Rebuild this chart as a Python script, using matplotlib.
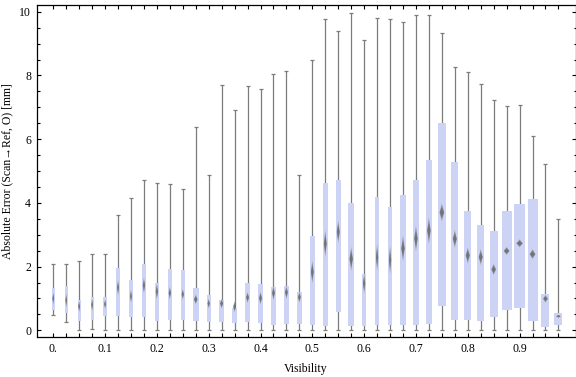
"""Notched box-whisker chart: absolute error vs. visibility."""

import matplotlib
matplotlib.use("Agg")
import matplotlib.pyplot as plt
import numpy as np
from matplotlib.patches import Polygon
from matplotlib.collections import PatchCollection

plt.rcParams.update({
    "font.family": ["Liberation Serif", "DejaVu Serif"],
    "font.size": 8.5,
})

# one box every 0.025 in visibility
visibility = [i * 0.025 for i in range(40)]

whisker_low = [0.47, 0.25, 0.0, 0.04, 0.0, 0.0, 0.0, 0.0, 0.02, 0.0,
               0.0, 0.0, 0.0, 0.0, 0.0, 0.0, 0.0, 0.0, 0.0, 0.0,
               0.0, 0.0, 0.0, 0.0, 0.0, 0.0, 0.0, 0.0, 0.0, 0.0,
               0.0, 0.0, 0.0, 0.0, 0.0, 0.0, 0.0, 0.0, 0.0, 0.0]
q1 = [0.64, 0.54, 0.28, 0.31, 0.45, 0.45, 0.42, 0.42, 0.29, 0.33,
      0.33, 0.29, 0.26, 0.26, 0.23, 0.25, 0.23, 0.17, 0.20, 0.20,
      0.17, 0.14, 0.57, 0.14, 0.15, 0.17, 0.17, 0.16, 0.16, 0.19,
      0.76, 0.31, 0.31, 0.28, 0.42, 0.63, 0.71, 0.29, 0.10, 0.17]
median = [1.00, 0.94, 0.75, 0.80, 0.82, 1.34, 1.07, 1.41, 1.22, 1.17,
          1.13, 0.97, 0.84, 0.84, 0.74, 1.03, 1.01, 1.17, 1.19, 1.04,
          1.83, 2.72, 3.09, 2.24, 1.47, 2.29, 2.21, 2.57, 2.88, 3.13,
          3.70, 2.87, 2.35, 2.30, 1.91, 2.49, 2.73, 2.39, 0.99, 0.44]
q3 = [1.32, 1.38, 0.94, 1.06, 1.03, 1.95, 1.57, 2.07, 1.50, 1.91,
      1.88, 1.32, 1.10, 0.94, 0.71, 1.47, 1.44, 1.35, 1.38, 1.19,
      2.95, 4.61, 4.73, 4.01, 1.76, 4.17, 3.86, 4.26, 4.73, 5.33,
      6.50, 5.27, 3.73, 3.32, 3.13, 3.76, 3.98, 4.11, 1.13, 0.54]
whisker_high = [2.07, 2.07, 2.19, 2.38, 2.38, 3.63, 4.14, 4.72, 4.61, 4.58,
                4.44, 6.38, 4.86, 7.70, 6.93, 7.67, 7.58, 8.06, 8.14, 4.89,
                8.48, 9.77, 9.39, 9.96, 9.11, 9.80, 9.77, 9.68, 9.90, 9.90,
                9.33, 8.27, 8.10, 7.74, 7.24, 7.04, 7.07, 6.11, 5.22, 3.50]
notch = [0.21, 0.23, 0.18, 0.21, 0.16, 0.26, 0.22, 0.26, 0.26, 0.21,
         0.18, 0.16, 0.16, 0.16, 0.18, 0.18, 0.21, 0.23, 0.21, 0.18,
         0.37, 0.44, 0.37, 0.39, 0.34, 0.44, 0.47, 0.42, 0.42, 0.44,
         0.29, 0.29, 0.26, 0.26, 0.18, 0.13, 0.13, 0.16, 0.125, 0.05]
# box widths (visibility units), they grow with the sample size
box_width = [0.0052, 0.0052, 0.0064, 0.0058, 0.0064, 0.0064, 0.0064, 0.0077, 0.0077, 0.0077,
             0.0077, 0.0116, 0.0077, 0.0102, 0.0097, 0.0097, 0.0097, 0.0097, 0.0097, 0.0097,
             0.0097, 0.0097, 0.0097, 0.0116, 0.0077, 0.0077, 0.0077, 0.0116, 0.0116, 0.0116,
             0.0154, 0.0135, 0.0135, 0.0135, 0.0154, 0.0193, 0.0212, 0.0193, 0.0154, 0.0154]

x_ticks = [0.0, 0.1, 0.2, 0.3, 0.4, 0.5, 0.6, 0.7, 0.8, 0.9]
x_tick_labels = ["0.", "0.1", "0.2", "0.3", "0.4", "0.5", "0.6", "0.7", "0.8", "0.9"]
y_ticks = [0, 2, 4, 6, 8, 10]

BOX_COLOR = "#ccd3f5"
WHISKER_COLOR = "#7c7c7c"
NOTCH_COLOR = "#6e6e6e"

fig = plt.figure(figsize=(5.76, 3.77), dpi=100)
ax = fig.add_axes([0.0637, 0.1053, 0.9355, 0.8822])

x = np.array(visibility)
lo = np.array(whisker_low)
hi = np.array(whisker_high)
b1 = np.array(q1)
b3 = np.array(q3)
med = np.array(median)
nh = np.array(notch)
w = np.array(box_width)

ax.vlines(x, lo, hi, color=WHISKER_COLOR, linewidth=0.9, zorder=1)
ax.plot(x, lo, linestyle="none", marker="_", markersize=2.6,
        markeredgewidth=0.9, color=WHISKER_COLOR, zorder=1)
ax.plot(x, hi, linestyle="none", marker="_", markersize=2.6,
        markeredgewidth=0.9, color=WHISKER_COLOR, zorder=1)

ax.bar(x, b3 - b1, bottom=b1, width=w, color=BOX_COLOR, edgecolor="none", zorder=2)

# notch drawn as a soft grey diamond around the median
for scale, alpha in [(1.0, 0.35), (0.8, 0.55), (0.55, 0.8)]:
    diamonds = []
    for xi, mi, hh, wi in zip(x, med, nh, w):
        hw = 0.3 * wi * (0.6 + 0.4 * scale)
        diamonds.append(Polygon([(xi - hw, mi), (xi, mi + hh * scale),
                                 (xi + hw, mi), (xi, mi - hh * scale)], closed=True))
    ax.add_collection(PatchCollection(diamonds, facecolor=NOTCH_COLOR,
                                      edgecolor="none", alpha=alpha, zorder=3))

ax.set_xlim(-0.032, 1.008)
ax.set_ylim(-0.22, 10.22)

ax.set_xticks(x_ticks)
ax.set_xticklabels(x_tick_labels)
ax.set_xticks(visibility, minor=True)
ax.set_yticks(y_ticks)
ax.set_yticks(np.arange(0, 10.01, 0.5), minor=True)

ax.tick_params(axis="both", which="both", direction="in", top=True, right=True,
               width=0.8, color="black", labelsize=8.5, pad=4)
ax.tick_params(axis="x", which="both", length=2.9)
ax.tick_params(axis="y", which="major", length=2.9)
ax.tick_params(axis="y", which="minor", length=1.8)

for spine in ax.spines.values():
    spine.set_linewidth(0.9)

ax.set_xlabel("Visibility", labelpad=6)
ax.set_ylabel("Absolute Error (Scan\u2192Ref, O) [mm]", labelpad=4)

fig.savefig("out.png", dpi=100)
